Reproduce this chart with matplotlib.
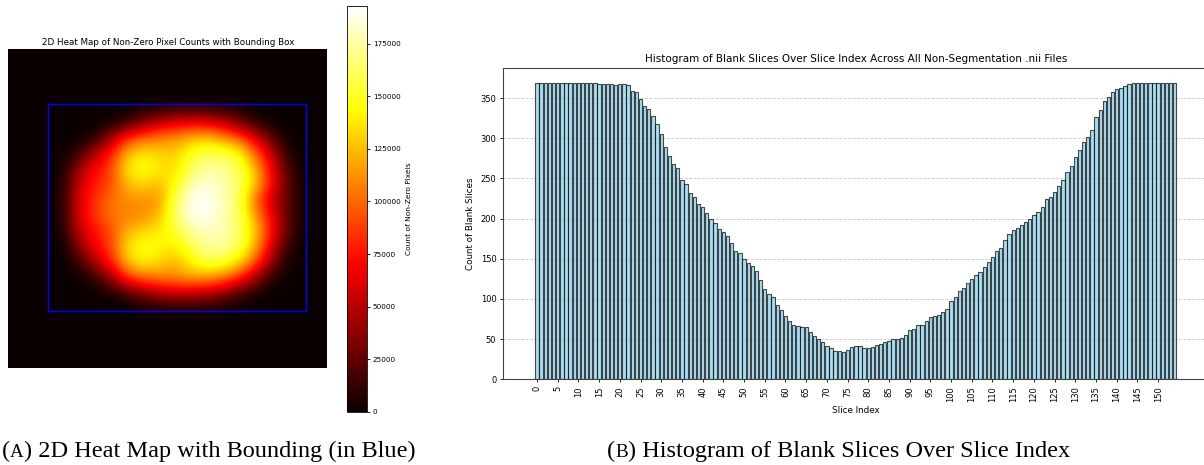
import matplotlib
matplotlib.use("Agg")
import matplotlib.pyplot as plt
import numpy as np
from matplotlib.patches import Rectangle

# --- histogram data: count of blank slices per slice index
slice_index = np.arange(155)
blank_counts = [
    369, 369, 369, 369, 369, 369, 369, 369, 369, 369,
    369, 369, 369, 369, 369, 367, 367, 367, 367, 366,
    368, 368, 366, 359, 357, 349, 340, 336, 328, 318,
    305, 289, 278, 268, 263, 248, 243, 232, 227, 218,
    214, 207, 200, 194, 187, 183, 178, 170, 160, 157,
    150, 145, 141, 135, 124, 113, 106, 103, 92, 86,
    79, 73, 68, 66, 65, 65, 59, 54, 50, 46,
    41, 39, 35, 35, 34, 36, 40, 41, 41, 39,
    39, 40, 43, 44, 46, 48, 50, 50, 51, 55,
    61, 63, 68, 68, 72, 77, 79, 80, 84, 88,
    98, 103, 110, 114, 120, 125, 130, 134, 140, 146,
    152, 160, 164, 173, 181, 186, 188, 192, 196, 200,
    204, 208, 215, 225, 227, 233, 241, 248, 258, 265,
    277, 285, 295, 302, 310, 327, 335, 346, 351, 357,
    361, 363, 365, 367, 369, 369, 369, 369, 369, 369,
    369, 369, 369, 369, 369,
]
xtick_pos = list(range(0, 155, 5))

# --- heat map: coarse 20x20 grid of non-zero counts (thousands), rows 3..16, cols 3..18
grid_size = 20
image_size = 240
blob_rows = [
    [0, 0, 0, 0, 0, 0, 0, 0, 0, 0, 0, 0, 0, 0, 0, 0],
    [0, 0, 0, 0, 8, 28, 45, 55, 60, 55, 45, 25, 6, 0, 0, 0],
    [0, 0, 6, 40, 80, 95, 105, 110, 120, 125, 110, 90, 60, 20, 0, 0],
    [0, 15, 50, 80, 125, 140, 130, 130, 150, 160, 158, 148, 100, 55, 8, 0],
    [3, 45, 72, 90, 140, 148, 140, 132, 162, 175, 172, 162, 125, 70, 20, 0],
    [6, 60, 78, 92, 125, 135, 120, 148, 178, 186, 178, 165, 130, 75, 25, 0],
    [8, 65, 85, 105, 110, 110, 112, 162, 191, 193, 180, 162, 100, 55, 25, 0],
    [8, 65, 85, 105, 108, 110, 125, 166, 189, 191, 180, 162, 120, 70, 25, 0],
    [5, 55, 75, 90, 125, 135, 140, 152, 172, 180, 177, 167, 130, 75, 25, 0],
    [0, 35, 70, 90, 140, 148, 145, 135, 157, 172, 174, 160, 120, 60, 10, 0],
    [0, 10, 45, 75, 125, 140, 130, 120, 140, 155, 150, 130, 90, 35, 3, 0],
    [0, 0, 8, 35, 75, 90, 100, 105, 110, 105, 95, 70, 35, 6, 0, 0],
    [0, 0, 0, 0, 8, 25, 35, 40, 40, 35, 25, 10, 0, 0, 0, 0],
    [0, 0, 0, 0, 0, 0, 0, 0, 0, 0, 0, 0, 0, 0, 0, 0],
]
bbox_x = (30, 224)   # bounding box in image pixels
bbox_y = (41, 197)

heat = np.zeros((grid_size, grid_size))
heat[3:17, 3:19] = np.array(blob_rows, dtype=float)
heat = heat * 1000

fig = plt.figure(figsize=(12.04, 4.65), dpi=100)
W, H = 1204, 465


def px_axes(left, top, right, bottom):
    # axes from pixel box (origin top-left)
    return fig.add_axes([left / W, 1 - bottom / H, (right - left) / W, (bottom - top) / H])


# ---------------- left: heat map + colorbar
ax1 = px_axes(8.3, 49.3, 327.3, 368.3)
im = ax1.imshow(np.clip(heat, 0, None), cmap="hot", interpolation="bicubic", vmin=0,
                vmax=heat.max(), extent=(0, image_size, image_size, 0))
ax1.add_patch(Rectangle((bbox_x[0], bbox_y[0]), bbox_x[1] - bbox_x[0], bbox_y[1] - bbox_y[0],
                        fill=False, edgecolor="blue", linewidth=1.0))
ax1.set_xlim(0, image_size)
ax1.set_ylim(image_size, 0)
ax1.axis("off")
ax1.set_title("2D Heat Map of Non-Zero Pixel Counts with Bounding Box", fontsize=6.3, pad=3)

cax = px_axes(347.3, 6, 367.3, 411.7)
cb = fig.colorbar(im, cax=cax)
cb.set_ticks(range(0, 190000, 25000))
cb.ax.tick_params(labelsize=5.2, length=2, width=0.6, pad=2)
cb.set_label("Count of Non-Zero Pixels", fontsize=5.4, labelpad=4)
cb.outline.set_linewidth(0.6)

# ---------------- right: histogram
ax2 = px_axes(503.3, 68, 1208.4, 379.3)
ax2.bar(slice_index, blank_counts, width=0.8, color="skyblue", edgecolor="black", alpha=0.7,
        linewidth=0.8)
ax2.set_xticks(xtick_pos)
ax2.set_xticklabels([str(v) for v in xtick_pos], rotation=90)
ax2.tick_params(labelsize=6, length=2.5, pad=2.5, width=0.6)
ax2.set_xlabel("Slice Index", fontsize=6.3, labelpad=3)
ax2.set_ylabel("Count of Blank Slices", fontsize=6.3, labelpad=4)
ax2.set_title("Histogram of Blank Slices Over Slice Index Across All Non-Segmentation .nii Files",
              fontsize=7.5, pad=4)
ax2.grid(axis="y", linestyle="--", alpha=0.7, linewidth=0.6)
ax2.set_axisbelow(True)
for s in ax2.spines.values():
    s.set_linewidth(0.8)
    s.set_color("#444444")

# ---------------- captions with small-caps letters
renderer = fig.canvas.get_renderer()


def caption(x, y, letter, rest, size=17.5):
    parts = [("(", size), (letter, size * 0.78), (") " + rest, size)]
    cur = x
    for txt, fs in parts:
        t = fig.text(cur, y, txt, fontsize=fs, family="Liberation Serif", va="baseline")
        cur = t.get_window_extent(renderer=renderer).x1 / W


caption(2 / W, 8 / H, "A", "2D Heat Map with Bounding (in Blue)")
caption(607 / W, 8 / H, "B", "Histogram of Blank Slices Over Slice Index")

fig.savefig("out.png", dpi=100)
